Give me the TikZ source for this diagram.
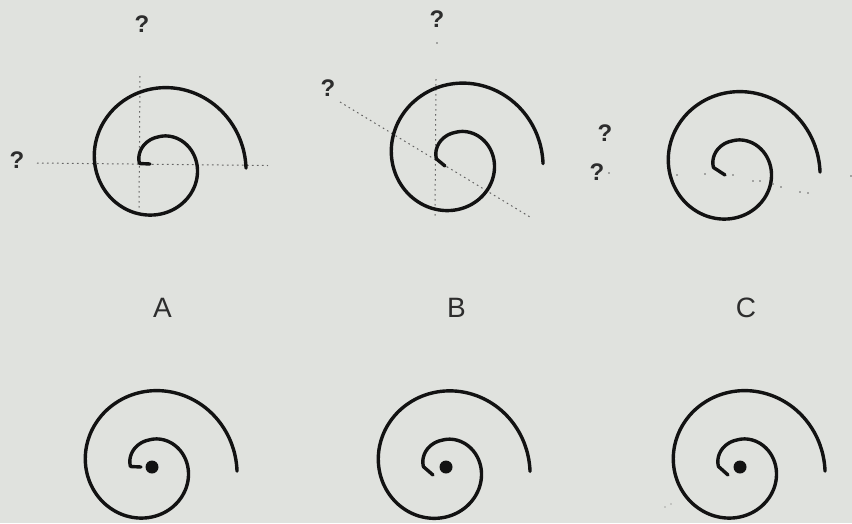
\documentclass[tikz,border=0pt]{standalone}
\usepackage{fontspec}
\setmainfont{Liberation Sans}
\definecolor{bgcol}{RGB}{224,226,222}
\definecolor{ink}{RGB}{18,18,18}
\definecolor{guidegray}{RGB}{100,100,100}
\definecolor{qcol}{RGB}{45,45,45}
\newcommand\drawspiral[4]{% cx, cy, tick x, tick y
  \draw[spiralline] (#3,#4) -- plot[domain=-90:453, samples=220, smooth]
    ({#1 + (26.5 + max(12.25*\x/90, 8*\x/90))*sin(\x)},
     {#2 - (26.5 + max(12.25*\x/90, 8*\x/90))*cos(\x)});}
\begin{document}
\begin{tikzpicture}[x=1pt,y=-1pt,
  spiralline/.style={line width=3.4pt, line cap=round, line join=round, draw=ink},
  guide/.style={draw=guidegray, line width=1pt, dash pattern=on 1.6pt off 3.4pt},
  qmark/.style={font=\fontsize{24}{24}\bfseries\selectfont, text=qcol, inner sep=0pt},
  letter/.style={font=\fontsize{28}{28}\selectfont, text=qcol, inner sep=0pt},
  speck/.style={fill=guidegray, draw=none, circle, inner sep=0pt, minimum size=1.6pt},
  centerdot/.style={fill=ink, draw=none, circle, inner sep=0pt, minimum size=13pt}]
\useasboundingbox (0,0) rectangle (852,523);
\fill[bgcol] (0,0) rectangle (852,523);

% ---------- A (top) ----------
\coordinate (aL) at (37,163);
\coordinate (aR) at (268,165.5);
\coordinate (aT) at (140,76);
\coordinate (aB) at (139,210);
\draw[guide] (aL) -- (aR);
\draw[guide] (aT) -- (aB);
\drawspiral{158}{163.5}{150}{164}
\node[qmark] (qA1) at (142,24) {?};
\node[qmark] (qA2) at (17,160) {?};

% ---------- B (top) ----------
\coordinate (bT) at (436,79);
\coordinate (bB) at (435,217);
\coordinate (bD1) at (340,102);
\coordinate (bD2) at (530,217);
\draw[guide] (bT) -- (bB);
\draw[guide] (bD1) -- (bD2);
\node[speck] (bdot) at (437,43) {};
\drawspiral{455}{159}{445}{166}
\node[qmark] (qB1) at (437,19) {?};
\node[qmark] (qB2) at (328,88) {?};

% ---------- C (top) ----------
\drawspiral{732}{167.5}{725}{175}
\node[qmark] (qC1) at (605,133) {?};
\node[qmark] (qC2) at (597,172) {?};
\foreach \p in {(609,173),(677,175),(705,174),(733,175),(753,181),(760,181),
                (773,184),(781,187),(800,192),(808,193),(851,176)}
  \fill[guidegray] \p circle (0.8pt);

% ---------- labels ----------
\node[letter] (labA) at (162.5,308) {A};
\node[letter] (labB) at (456.5,308) {B};
\node[letter] (labC) at (746,308) {C};

% ---------- bottom row ----------
\drawspiral{149}{466.5}{141}{467}
\node[centerdot] (dA) at (152,467) {};
\drawspiral{442}{466.75}{433}{475}
\node[centerdot] (dB) at (446,467) {};
\drawspiral{737}{466.5}{728}{475}
\node[centerdot] (dC) at (740,467) {};
\fill[guidegray] (665,507) circle (0.7pt);
\fill[guidegray] (671,504) circle (0.7pt);
\end{tikzpicture}
\end{document}
